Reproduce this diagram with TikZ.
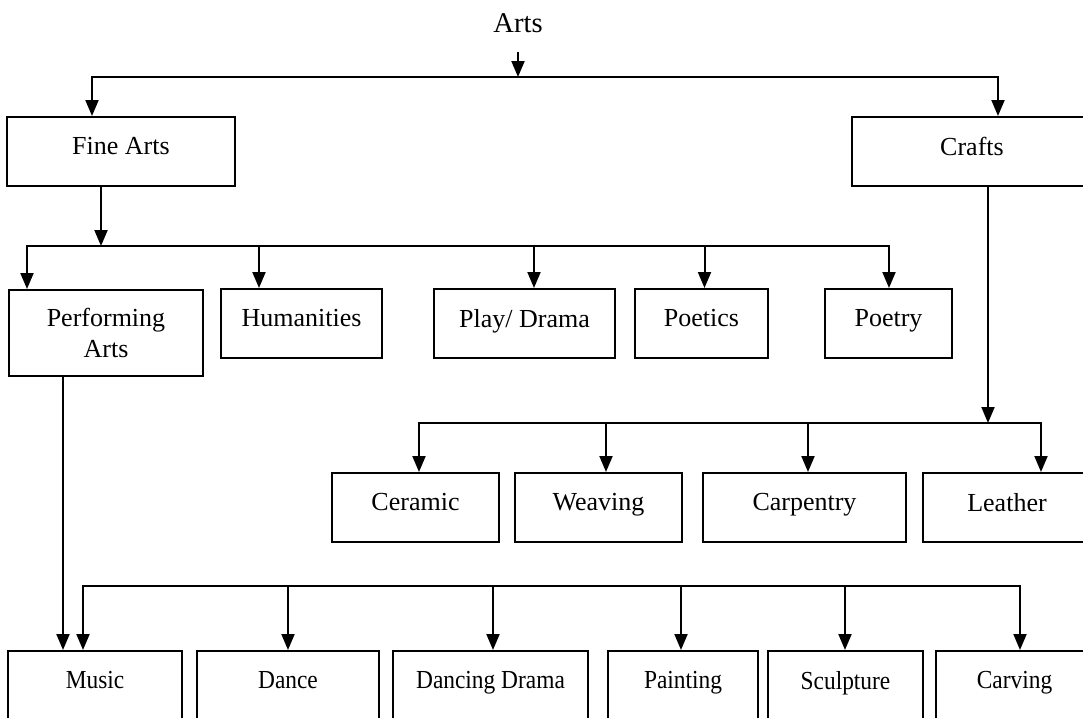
\documentclass[tikz,border=0pt]{standalone}
\usepackage{fontspec}
\setmainfont{Liberation Serif}
\newfontfamily\narrowfont[FakeStretch=0.9]{Liberation Serif}
\usepackage{tikz}
\usetikzlibrary{arrows.meta,positioning}

\begin{document}
\begin{tikzpicture}[x=0.5pt,y=-0.5pt,
  box/.style={draw,line width=1pt,inner sep=0pt,minimum height=34.5pt,text depth=5.5pt,font=\fontsize{13}{15.5}\selectfont},
  lowbox/.style={box,font=\narrowfont\fontsize{13}{15.5}\selectfont},
  arr/.style={line width=1pt,-{Triangle[length=8pt,width=6.5pt]}},
  dbl/.style={line width=1pt,{Triangle[length=8pt,width=6.5pt]}-{Triangle[length=8pt,width=6.5pt]}}]
\useasboundingbox (0,0) rectangle (1083,718);
\clip (0,0) rectangle (1083,718);

\node[anchor=base,font=\fontsize{14.3}{17}\selectfont] (arts) at (518,32) {Arts};

\node[box,minimum width=114pt] (fine) at (121,151.5) {Fine Arts};
\node[box,minimum width=120pt] (crafts) at (972,151.5) {Crafts};

\node[box,minimum width=97pt,minimum height=43pt,text depth=0pt,align=center] (perf) at (106,333) {Performing\\Arts};
\node[box,minimum width=80.5pt] (hum) at (301.5,323.5) {Humanities};
\node[box,minimum width=90.5pt] (play) at (524.5,323.5) {Play/ Drama};
\node[box,minimum width=66.5pt] (poetics) at (701.5,323.5) {Poetics};
\node[box,minimum width=63.5pt] (poetry) at (888.5,323.5) {Poetry};

\node[box,minimum width=83.5pt] (ceramic) at (415.5,507.5) {Ceramic};
\node[box,minimum width=83.5pt] (weaving) at (598.5,507.5) {Weaving};
\node[box,minimum width=101.5pt] (carpentry) at (804.5,507.5) {Carpentry};
\node[box,minimum width=84pt] (leather) at (1007,507.5) {Leather};

\node[lowbox,minimum width=87pt] (music) at (95,685.5) {Music};
\node[lowbox,minimum width=91pt] (dance) at (288,685.5) {Dance};
\node[lowbox,minimum width=97.5pt] (ddrama) at (490.5,685.5) {Dancing Drama};
\node[lowbox,minimum width=75pt] (painting) at (683,685.5) {Painting};
\node[lowbox,minimum width=77.5pt] (sculpture) at (845.5,685.5) {Sculpture};
\node[lowbox,minimum width=78.5pt] (carving) at (1014.5,685.5) {Carving};

\coordinate (j1) at (518,77);
\coordinate (j1a) at (92,77);
\coordinate (j1b) at (998,77);
\draw[arr,shorten <=6.5pt] (arts.south) -- (j1);
\draw[dbl] (fine.north -| j1a) -- (j1a) -- (j1b) -- (crafts.north -| j1b);

\coordinate (f0) at (101,246);
\coordinate (j2a) at (27,246);
\coordinate (j2b) at (889,246);
\draw[arr] (fine.south -| f0) -- (f0);
\draw[dbl] (perf.north -| j2a) -- (j2a) -- (j2b) -- (poetry.north -| j2b);
\foreach \n/\x in {hum/259,play/534,poetics/704.5}{
  \coordinate (t) at (\x,246);
  \draw[arr] (t) -- (t |- \n.north);
}

\coordinate (c0) at (988,423);
\coordinate (j3a) at (419,423);
\coordinate (j3b) at (1041,423);
\draw[arr] (crafts.south -| c0) -- (c0);
\draw[dbl] (ceramic.north -| j3a) -- (j3a) -- (j3b) -- (leather.north -| j3b);
\foreach \n/\x in {weaving/606,carpentry/808}{
  \coordinate (t) at (\x,423);
  \draw[arr] (t) -- (t |- \n.north);
}

\coordinate (p0) at ([xshift=-21.5pt]perf.south);
\draw[arr] (p0) -- (p0 |- music.north);

\coordinate (j4a) at (83,586);
\coordinate (j4b) at (1020,586);
\draw[dbl] (music.north -| j4a) -- (j4a) -- (j4b) -- (carving.north -| j4b);
\foreach \n/\x in {dance/288,ddrama/493,painting/681,sculpture/845}{
  \coordinate (t) at (\x,586);
  \draw[arr] (t) -- (t |- \n.north);
}
\end{tikzpicture}
\end{document}
